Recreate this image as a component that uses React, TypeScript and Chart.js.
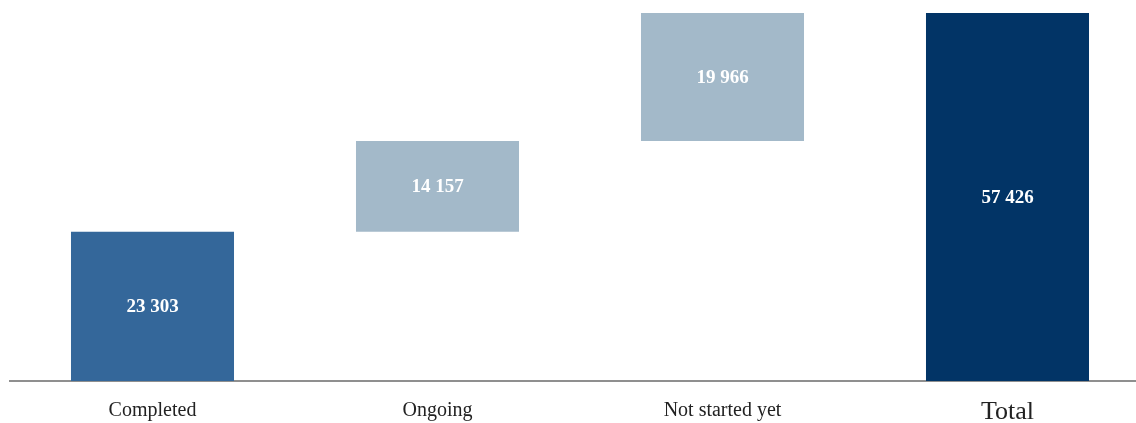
import React, { useEffect, useRef } from "react";
import { Chart, registerables } from "chart.js";

Chart.register(...registerables);

const categories = ["Completed", "Ongoing", "Not started yet", "Total"];
const values = [23303, 14157, 19966, 57426];
const valueLabels = ["23 303", "14 157", "19 966", "57 426"];
const barColors = ["#34679A", "#A3B9C9", "#A3B9C9", "#023466"];

const labelPlugin = {
  id: "barLabels",
  afterDatasetsDraw(chart: any) {
    const { ctx } = chart;
    const meta = chart.getDatasetMeta(0);
    ctx.save();
    ctx.fillStyle = "#ffffff";
    ctx.font = "bold 19px 'Liberation Serif'";
    ctx.textAlign = "center";
    ctx.textBaseline = "middle";
    meta.data.forEach((bar: any, i: number) => {
      const { x, y, base } = bar.getProps(["x", "y", "base"], true);
      ctx.fillText(valueLabels[i], x, (y + base) / 2 + 1);
    });
    ctx.restore();
  },
};

const categoryLabelPlugin = {
  id: "categoryLabels",
  afterDraw(chart: any) {
    const { ctx, chartArea } = chart;
    const xScale = chart.scales.x;
    ctx.save();
    ctx.fillStyle = "#222222";
    ctx.textAlign = "center";
    ctx.textBaseline = "alphabetic";
    categories.forEach((c, i) => {
      const x = xScale.getPixelForValue(i);
      const isTotal = i === categories.length - 1;
      ctx.font = isTotal ? "26px 'Liberation Serif'" : "20px 'Liberation Serif'";
      ctx.fillText(c, x, chartArea.bottom + (isTotal ? 38 : 35));
    });
    ctx.restore();
  },
};

export default function App() {
  const ref = useRef<HTMLCanvasElement>(null);
  useEffect(() => {
    if (!ref.current) return;
    let running = 0;
    const ranges = values.map((v, i) => {
      if (i === values.length - 1) return [0, v];
      const r = [running, running + v];
      running += v;
      return r;
    });
    const chart = new Chart(ref.current, {
      type: "bar",
      data: {
        labels: categories,
        datasets: [
          {
            data: ranges as any,
            backgroundColor: barColors,
            borderWidth: 0,
            borderSkipped: false,
            barPercentage: 0.572,
            categoryPercentage: 1,
          },
        ],
      },
      options: {
        responsive: false,
        animation: false,
        layout: { padding: { left: 10, right: 10, top: 13, bottom: 42 } },
        plugins: {
          legend: { display: false },
          tooltip: { enabled: false },
        },
        scales: {
          x: {
            grid: { display: false, drawTicks: false },
            border: { display: true, color: "#8F8F8F", width: 2 },
            ticks: { display: false },
          },
          y: {
            display: false,
            min: 0,
            max: 57426,
          },
        },
      },
      plugins: [labelPlugin, categoryLabelPlugin],
    });
    return () => chart.destroy();
  }, []);
  return (
    <div
      style={{
        position: "absolute",
        left: 0,
        top: 0,
        width: 1136,
        height: 423,
        overflow: "hidden",
        background: "#ffffff",
      }}
    >
      <canvas ref={ref} width={1160} height={423} style={{ display: "block" }} />
    </div>
  );
}
